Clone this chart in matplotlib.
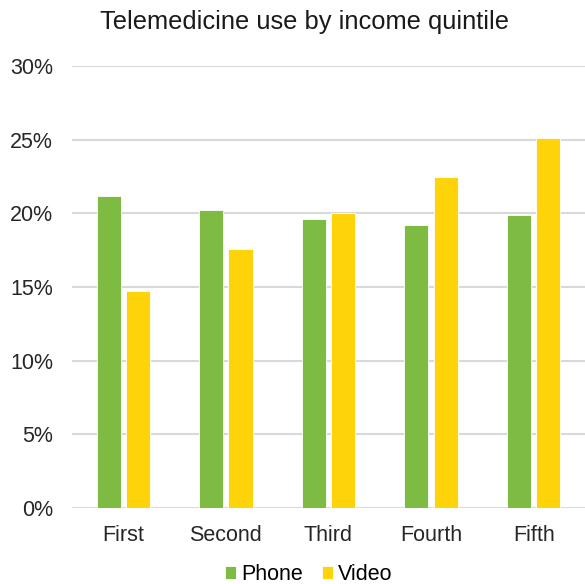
import matplotlib
matplotlib.use("Agg")
import matplotlib.pyplot as plt
import numpy as np
from matplotlib.ticker import FuncFormatter

categories = ["First", "Second", "Third", "Fourth", "Fifth"]
phone = [21.2, 20.2, 19.6, 19.2, 19.9]
video = [14.7, 17.6, 20.0, 22.5, 25.1]
series_names = ["Phone", "Video"]
colors = ["#7DBB42", "#FFD30A"]

plt.rcParams['font.family'] = ['Liberation Sans', 'DejaVu Sans']

fig = plt.figure(figsize=(5.85, 5.84), dpi=100)
ax = fig.add_axes([0.123, 0.130, 0.877, 0.757])

x = np.arange(len(categories))
w = 0.235
off = 0.143
ax.bar(x - off, phone, w, color=colors[0], edgecolor="white", linewidth=0.6, label=series_names[0], zorder=3)
ax.bar(x + off, video, w, color=colors[1], edgecolor="white", linewidth=0.6, label=series_names[1], zorder=3)

ax.set_xlim(-0.5, len(categories) - 0.5)
ax.set_ylim(0, 30)
ax.set_yticks(np.arange(0, 31, 5))
ax.yaxis.set_major_formatter(FuncFormatter(lambda v, p: f"{int(v)}%"))
ax.set_xticks(x)
ax.set_xticklabels(categories)
ax.grid(axis="y", color="#D9D9D9", linewidth=1.5, zorder=0)
for s in ["top", "right", "left", "bottom"]:
    ax.spines[s].set_visible(False)
ax.tick_params(axis="both", length=0, labelsize=15.5, colors="#262626")
ax.tick_params(axis="y", pad=13.5)
ax.tick_params(axis="x", pad=12)

fig.suptitle("Telemedicine use by income quintile", fontsize=18.4, color="#1a1a1a", y=0.983, x=0.52)

fig.legend(loc="lower center", bbox_to_anchor=(0.528, -0.035), ncol=2, frameon=False,
           fontsize=15.5, handlelength=0.5, handleheight=0.5, handletextpad=0.25, columnspacing=0.9)

fig.savefig("out.png", dpi=100)
